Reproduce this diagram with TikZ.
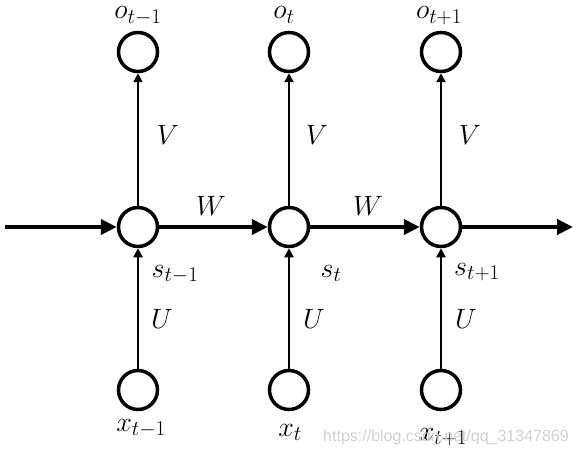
\RequirePackage{fix-cm}
\documentclass[tikz,border=0pt]{standalone}
\usepackage{fontspec}
\DeclareMathSizes{28}{28}{21}{16}
\usetikzlibrary{arrows.meta}
\begin{document}
\begin{tikzpicture}[x=1pt,y=-1pt,
  unit/.style={circle,draw,line width=3.5pt,minimum size=39pt,inner sep=0pt},
  lbl/.style={font=\fontsize{28}{32}\selectfont,inner sep=0pt,anchor=base},
  thin/.style={line width=2pt,-{Triangle[length=9pt,width=9pt]}},
  thick/.style={line width=4.5pt,-{Triangle[length=16pt,width=15pt]}}]
\useasboundingbox (0,0) rectangle (577,454);
% nodes
\node[unit] (o1) at (138,52) {};
\node[unit] (o2) at (289,52) {};
\node[unit] (o3) at (441,52) {};
\node[unit] (s1) at (138,227) {};
\node[unit] (s2) at (289,227) {};
\node[unit] (s3) at (441,227) {};
\node[unit] (x1) at (138,390) {};
\node[unit] (x2) at (289,390) {};
\node[unit] (x3) at (441,390) {};
\coordinate (in) at (5,227);
\coordinate (out) at (573,227);
% connectors
\draw[thick] (in) -- (s1);
\draw[thick] (s1) -- (s2);
\draw[thick] (s2) -- (s3);
\draw[thick] (s3) -- (out);
\foreach \i in {1,2,3}{
  \draw[thin] (s\i) -- (o\i);
  \draw[thin] (x\i) -- (s\i);
}
% labels
\node[lbl] (lo1) at (138,19) {$o_{t-1}$};
\node[lbl] (lo2) at (284,19) {$o_{t}$};
\node[lbl] (lo3) at (439,19) {$o_{t+1}$};
\node[lbl] (lv1) at (168,145) {$V$};
\node[lbl] (lv2) at (317,145) {$V$};
\node[lbl] (lv3) at (470,145) {$V$};
\node[lbl] (lw1) at (211,215) {$W$};
\node[lbl] (lw2) at (368,215) {$W$};
\node[lbl] (ls1) at (175,277) {$s_{t-1}$};
\node[lbl] (ls2) at (331,277) {$s_{t}$};
\node[lbl] (ls3) at (477,275) {$s_{t+1}$};
\node[lbl] (lu1) at (162,328) {$U$};
\node[lbl] (lu2) at (314,328) {$U$};
\node[lbl] (lu3) at (466,328) {$U$};
\node[lbl] (lx1) at (141,431) {$x_{t-1}$};
\node[lbl] (lx2) at (290,436) {$x_{t}$};
\node[lbl] (lx3) at (443,440) {$x_{t+1}$};
\node[font=\fontspec{Liberation Sans}\fontsize{16}{18}\selectfont,text=black!18,inner sep=0pt] (wm) at (446,437) {https://blog.csdn.net/qq\_31347869};
\end{tikzpicture}
\end{document}
